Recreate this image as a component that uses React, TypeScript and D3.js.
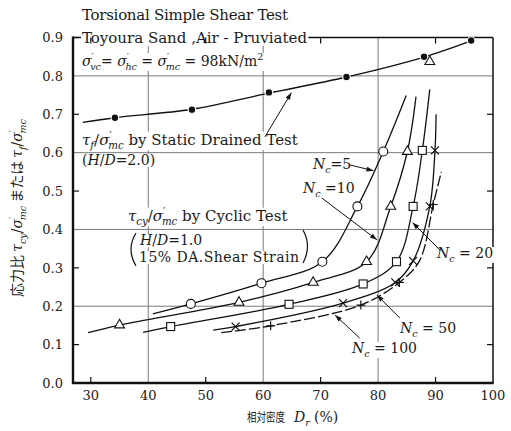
import React, { useEffect, useRef } from 'react'
import * as d3 from 'd3'

const width = 511
const height = 431

const xTickValues = [30, 40, 50, 60, 70, 80, 90, 100]
const yTickValues = [0, 0.1, 0.2, 0.3, 0.4, 0.5, 0.6, 0.7, 0.8, 0.9]
const gridDr = [40, 60, 80]
const gridRatio = [0.2, 0.4, 0.6, 0.8]
const minorDr = [30, 50, 70, 90]
const minorRatio = [0.1, 0.3, 0.5, 0.7]

// static drained test, tau_f / sigma'_mc  [Dr %, ratio]
const staticPoints = [[34.2, 0.691], [47.6, 0.712], [61.0, 0.757], [74.5, 0.797], [88.0, 0.850], [96.2, 0.892]]
const staticCurve = [[28.6, 0.679], [34.2, 0.691], [47.6, 0.713], [61.0, 0.755], [74.5, 0.797], [88.0, 0.849], [96.2, 0.891]]
const staticTriangle = [[89.0, 0.837]]

// cyclic test, tau_cy / sigma'_mc
const nc5Points = [[47.4, 0.206], [59.7, 0.26], [70.3, 0.316], [76.4, 0.46], [80.9, 0.603]]
const nc5Curve = [[40.8, 0.18], [47.4, 0.206], [59.7, 0.26], [70.3, 0.316], [76.4, 0.46], [80.9, 0.603], [84.9, 0.749]]
const nc10Points = [[35.0, 0.151], [55.8, 0.21], [68.7, 0.262], [78.0, 0.316], [82.2, 0.46], [85.1, 0.603]]
const nc10Curve = [[29.5, 0.131], [35.0, 0.151], [55.8, 0.21], [68.7, 0.262], [78.0, 0.316], [82.2, 0.46], [85.1, 0.603], [86.6, 0.746]]
const nc20Points = [[43.9, 0.147], [64.5, 0.205], [77.4, 0.258], [83.2, 0.316], [86.1, 0.46], [87.7, 0.606]]
const nc20Curve = [[39.1, 0.132], [43.9, 0.147], [64.5, 0.205], [77.4, 0.258], [83.2, 0.316], [86.1, 0.46], [87.7, 0.606], [89.0, 0.765]]
const nc50Points = [[55.2, 0.147], [73.9, 0.208], [83.0, 0.262], [86.1, 0.318], [89.0, 0.46], [89.9, 0.606]]
const nc50Curve = [[51.3, 0.138], [55.2, 0.147], [73.9, 0.208], [83.0, 0.262], [86.1, 0.318], [89.0, 0.46], [89.9, 0.606], [90.1, 0.70]]
const nc100Points = [[61.3, 0.149], [77.0, 0.203], [83.7, 0.262], [89.6, 0.465]]
const nc100Curve = [[52.7, 0.131], [61.3, 0.149], [77.0, 0.203], [83.7, 0.262], [87.2, 0.318], [89.6, 0.465], [91.0, 0.55]]

const series = [
    { points: nc5Points, curve: nc5Curve, marker: 'circle', dash: null },
    { points: nc10Points, curve: nc10Curve, marker: 'triangle', dash: null },
    { points: nc20Points, curve: nc20Curve, marker: 'square', dash: null },
    { points: nc50Points, curve: nc50Curve, marker: 'x', dash: null },
    { points: nc100Points, curve: nc100Curve, marker: 'plus', dash: '11,3' },
]

// arrows in data units: [from, to]
const arrows = [
    [[60.3, 0.641], [64.9, 0.756]],
    [[75.1, 0.568], [79.2, 0.553]],
    [[70.2, 0.482], [79.8, 0.373]],
    [[90.8, 0.346], [86.0, 0.418]],
    [[83.8, 0.169], [79.8, 0.229]],
    [[76.8, 0.117], [72.5, 0.177]],
]

const serif = "'DejaVu Serif', 'Liberation Serif', serif"
const cjk = "'Noto Sans CJK JP', sans-serif"

type Seg = { t: string, i?: boolean, sub?: boolean, sup?: boolean, dx?: number, f?: string }

const sig = (s: string): Seg[] => [{ t: 'σ', i: true }, { t: '′', sup: true }, { t: s, sub: true, i: true, dx: -3.5 }]
const nc = (v: string): Seg[] => [{ t: 'N', i: true }, { t: 'c', sub: true, i: true }, { t: v }]

const labels: { x: number, y: number, segs: Seg[], len?: number, bg?: boolean, size?: number }[] = [
    { x: 82, y: 20, segs: [{ t: 'Torsional Simple Shear Test' }], len: 206 },
    { x: 82, y: 43, segs: [{ t: 'Toyoura Sand ,Air - Pruviated' }], len: 225, bg: true },
    { x: 82, y: 66, segs: [...sig('vc'), { t: '= ' }, ...sig('hc'), { t: ' = ' }, ...sig('mc'), { t: ' = 98kN/m' }, { t: '2', sup: true }], bg: true, size: 14 },
    { x: 82, y: 145, segs: [{ t: 'τ', i: true }, { t: 'f', sub: true, i: true }, { t: '/' }, ...sig('mc'), { t: ' by Static Drained Test' }], bg: true },
    { x: 82, y: 165, segs: [{ t: '(' }, { t: 'H', i: true }, { t: '/' }, { t: 'D', i: true }, { t: '=2.0)' }], bg: true, size: 14 },
    { x: 128, y: 221, segs: [{ t: 'τ', i: true }, { t: 'cy', sub: true, i: true }, { t: '/' }, ...sig('mc'), { t: ' by Cyclic Test' }], bg: true },
    { x: 140, y: 245, segs: [{ t: 'H', i: true }, { t: '/' }, { t: 'D', i: true }, { t: '=1.0' }], bg: true, size: 14 },
    { x: 139, y: 262, segs: [{ t: '15% DA.Shear Strain' }], len: 160, bg: true, size: 14 },
    { x: 313, y: 169, segs: nc('=5'), bg: true, size: 14 },
    { x: 303, y: 193, segs: nc(' =10'), bg: true, size: 14 },
    { x: 437, y: 258, segs: nc(' = 20'), bg: true, size: 14 },
    { x: 400, y: 333, segs: nc(' = 50'), bg: true, size: 14 },
    { x: 352, y: 353, segs: nc(' = 100'), bg: true, size: 14 },
]

function rich(text, segs: Seg[], size: number) {
    let shift = 0
    segs.forEach(s => {
        const target = s.sub ? size * 0.28 : s.sup ? -size * 0.42 : 0
        const ts = text.append('tspan').text(s.t).attr('dy', target - shift)
        shift = target
        if (s.sub || s.sup) ts.attr('font-size', size * 0.68)
        if (s.i) ts.attr('font-style', 'italic')
        if (s.dx) ts.attr('dx', s.dx)
        if (s.f) ts.attr('font-family', s.f)
    })
}

function marker(g, type, cx, cy) {
    if (type === 'dot') {
        g.append('circle').attr('cx', cx).attr('cy', cy).attr('r', 3.8)
            .attr('fill', '#111').attr('stroke', '#fff').attr('stroke-width', 1.2)
    } else if (type === 'circle') {
        g.append('circle').attr('cx', cx).attr('cy', cy).attr('r', 4.5)
            .attr('fill', '#fff').attr('stroke', '#111').attr('stroke-width', 1.1)
    } else if (type === 'triangle') {
        g.append('path').attr('d', d3.symbol(d3.symbolTriangle, 42)())
            .attr('transform', `translate(${cx},${cy})`)
            .attr('fill', '#fff').attr('stroke', '#111').attr('stroke-width', 1.1)
    } else if (type === 'square') {
        g.append('rect').attr('x', cx - 4).attr('y', cy - 4).attr('width', 8).attr('height', 8)
            .attr('fill', '#fff').attr('stroke', '#111').attr('stroke-width', 1.1)
    } else if (type === 'x') {
        const r = 4
        g.append('path').attr('d', `M${cx - r},${cy - r}L${cx + r},${cy + r}M${cx - r},${cy + r}L${cx + r},${cy - r}`)
            .attr('stroke', '#111').attr('stroke-width', 1.2)
    } else if (type === 'plus') {
        const r = 4.5
        g.append('path').attr('d', `M${cx - r},${cy}L${cx + r},${cy}M${cx},${cy - r}L${cx},${cy + r}`)
            .attr('stroke', '#111').attr('stroke-width', 1.2)
    }
}

export default function App() {
    const svgRef = useRef(null)

    useEffect(() => {
        const svg = d3.select(svgRef.current)
        svg.selectAll('*').remove()

        const x = d3.scaleLinear().domain([26.9, 100]).range([73, 493])
        const y = d3.scaleLinear().domain([0, 0.9]).range([383, 37.5])
        const [x0, x1] = x.range()
        const [y0, y1] = y.range()

        svg.append('defs').append('marker')
            .attr('id', 'arrow').attr('viewBox', '0 0 10 10').attr('refX', 10).attr('refY', 5)
            .attr('markerWidth', 9).attr('markerHeight', 7).attr('markerUnits', 'userSpaceOnUse')
            .attr('orient', 'auto')
            .append('path').attr('d', 'M0,1.5L10,5L0,8.5Z').attr('fill', '#111')

        // grid
        const grid = svg.append('g').attr('stroke', '#7a7a7a').attr('stroke-width', 1)
        gridDr.forEach(d => grid.append('line').attr('x1', x(d)).attr('x2', x(d)).attr('y1', y1).attr('y2', y0))
        gridRatio.forEach(d => grid.append('line').attr('x1', x0).attr('x2', x1).attr('y1', y(d)).attr('y2', y(d)))

        // thin frame: top + right
        svg.append('line').attr('x1', x0).attr('x2', x1).attr('y1', y1).attr('y2', y1).attr('stroke', '#111').attr('stroke-width', 1.3)
        svg.append('line').attr('x1', x1).attr('x2', x1).attr('y1', y1).attr('y2', y0).attr('stroke', '#111').attr('stroke-width', 1.5)

        // annotation texts with white backgrounds
        const tg = svg.append('g').attr('font-family', serif).attr('fill', '#1a1a1a')
        labels.forEach(l => {
            const size = l.size || 15
            const t = tg.append('text').attr('x', l.x).attr('y', l.y).attr('font-size', size)
            if (l.len) t.attr('textLength', l.len).attr('lengthAdjust', 'spacing')
            rich(t, l.segs, size)
            if (l.bg) {
                const b = t.node().getBBox()
                tg.insert('rect', () => t.node())
                    .attr('x', b.x - 1).attr('y', b.y + 2).attr('width', b.width + 2).attr('height', b.height - 3)
                    .attr('fill', '#fff')
            }
        })

        // big parentheses for the cyclic label
        svg.append('path').attr('d', 'M136,233 Q126,249 136,266').attr('fill', 'none').attr('stroke', '#111').attr('stroke-width', 1.2)
        svg.append('path').attr('d', 'M303,230 Q312,246 303,263').attr('fill', 'none').attr('stroke', '#111').attr('stroke-width', 1.2)

        const line = d3.line().x(d => x(d[0])).y(d => y(d[1])).curve(d3.curveCatmullRom.alpha(0.5))

        // static curve
        svg.append('path').attr('d', line(staticCurve)).attr('fill', 'none').attr('stroke', '#111').attr('stroke-width', 1.4)

        // cyclic curves
        series.forEach(s => {
            const p = svg.append('path').attr('d', line(s.curve)).attr('fill', 'none')
                .attr('stroke', '#111').attr('stroke-width', 1.3)
            if (s.dash) p.attr('stroke-dasharray', s.dash)
        })

        const mg = svg.append('g')
        staticPoints.forEach(d => marker(mg, 'dot', x(d[0]), y(d[1])))
        staticTriangle.forEach(d => marker(mg, 'triangle', x(d[0]), y(d[1])))
        series.forEach(s => s.points.forEach(d => marker(mg, s.marker, x(d[0]), y(d[1]))))

        // arrows
        arrows.forEach(([a, b]) => {
            svg.append('line').attr('x1', x(a[0])).attr('y1', y(a[1])).attr('x2', x(b[0])).attr('y2', y(b[1]))
                .attr('stroke', '#111').attr('stroke-width', 1).attr('marker-end', 'url(#arrow)')
        })

        // thick axes and inward ticks
        const ax = svg.append('g').attr('stroke', '#111')
        ax.append('line').attr('x1', x0).attr('x2', x0).attr('y1', y1 - 1).attr('y2', y0 + 1).attr('stroke-width', 2.4)
        ax.append('line').attr('x1', x0 - 1).attr('x2', x1 + 0.7).attr('y1', y0).attr('y2', y0).attr('stroke-width', 2.4)
        minorRatio.concat([0.9]).forEach(d => {
            ax.append('line').attr('x1', x0).attr('x2', x0 + 6).attr('y1', y(d)).attr('y2', y(d)).attr('stroke-width', 1.2)
        })
        minorRatio.forEach(d => {
            ax.append('line').attr('x1', x1).attr('x2', x1 - 6).attr('y1', y(d)).attr('y2', y(d)).attr('stroke-width', 1.2)
        })
        minorDr.forEach(d => {
            ax.append('line').attr('x1', x(d)).attr('x2', x(d)).attr('y1', y0).attr('y2', y0 - 6).attr('stroke-width', 1.2)
            ax.append('line').attr('x1', x(d)).attr('x2', x(d)).attr('y1', y1).attr('y2', y1 + 6).attr('stroke-width', 1.2)
        })

        // tick labels
        const tl = svg.append('g').attr('font-family', serif).attr('font-size', 13).attr('fill', '#222')
        yTickValues.forEach(d => {
            tl.append('text').attr('x', 63).attr('y', y(d)).attr('dy', '0.36em').attr('text-anchor', 'end').text(d.toFixed(1))
        })
        xTickValues.forEach(d => {
            tl.append('text').attr('x', x(d)).attr('y', 400).attr('text-anchor', 'middle').text(d)
        })

        // axis titles
        const xt = svg.append('g').attr('fill', '#222')
        xt.append('text').attr('transform', 'translate(247,422) scale(0.76,1)').attr('font-family', cjk)
            .attr('font-size', 12.5).text('相対密度')
        const dr = xt.append('text').attr('x', 294).attr('y', 422).attr('font-family', serif).attr('font-size', 14)
        rich(dr, [{ t: 'D', i: true }, { t: 'r', sub: true, i: true }], 14)
        xt.append('text').attr('x', 314).attr('y', 422).attr('font-family', serif).attr('font-size', 14).text('(%)')

        const yt = svg.append('text').attr('transform', 'translate(22,208) rotate(-90)')
            .attr('text-anchor', 'middle').attr('font-family', serif).attr('font-size', 14).attr('fill', '#222')
        rich(yt, [{ t: '応力比 ', f: cjk }, { t: 'τ', i: true }, { t: 'cy', sub: true, i: true }, { t: '/' }, ...sig('mc'),
            { t: ' または ', f: cjk }, { t: 'τ', i: true }, { t: 'f', sub: true, i: true }, { t: '/' }, ...sig('mc')], 14)
    }, [])

    return (
        <svg ref={svgRef} width={width} height={height}
            style={{ position: 'absolute', left: 0, top: 0, background: '#fff' }} />
    )
}
